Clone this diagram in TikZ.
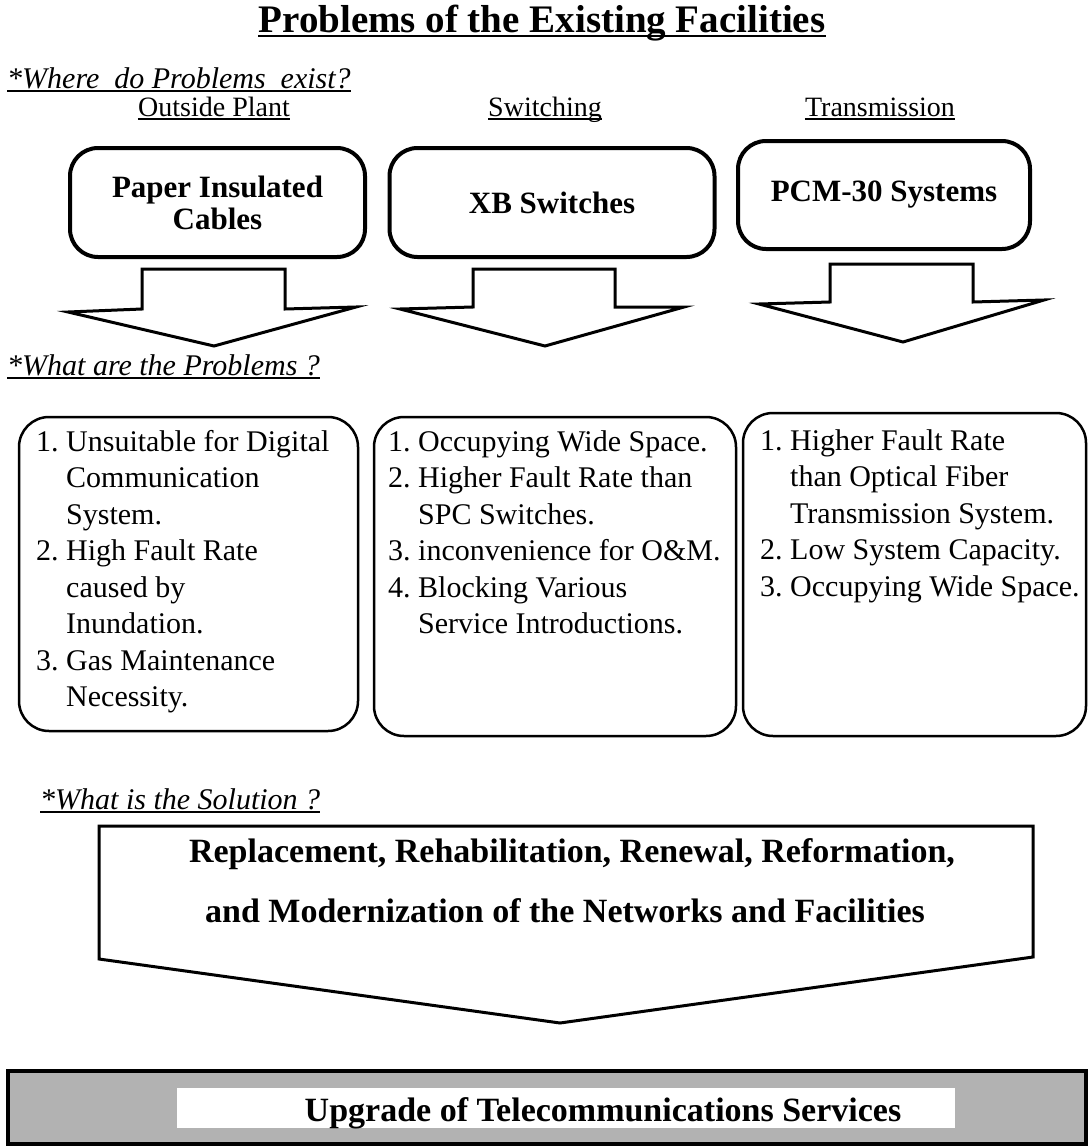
\documentclass[tikz,border=0pt]{standalone}
\usepackage{fontspec}
\setmainfont{Liberation Serif}
\newcommand\cont{\hspace*{1em}}
\frenchspacing
\begin{document}
\begin{tikzpicture}[x=1pt,y=-1pt,
  every node/.style={inner sep=0pt},
  ttl/.style={font=\fontsize{39}{45}\selectfont\bfseries, anchor=base},
  hdr/.style={font=\fontsize{30}{36}\selectfont\itshape, anchor=base west},
  cat/.style={font=\fontsize{28}{34}\selectfont, anchor=base},
  ul/.style={line width=1.6pt},
  topbox/.style={draw, line width=4pt, rounded corners=28pt,
    font=\fontsize{31}{32}\selectfont\bfseries, align=center},
  probbox/.style={draw, line width=2.5pt, rounded corners=30pt},
  plist/.style={font=\fontsize{30}{36.5}\selectfont, anchor=base west},
  blockarrow/.style={draw, line width=3pt, line join=miter},
  solbox/.style={draw, line width=3pt, line join=miter},
  soltext/.style={font=\fontsize{34}{40}\selectfont\bfseries, anchor=base},
  banner/.style={draw, line width=4pt, fill=black!30},
]
\useasboundingbox (0,0) rectangle (1090,1146);
\fill[white] (0,0) rectangle (1090,1146);

% title
\node[ttl] (title) at (542,32) {Problems of the Existing Facilities};
\draw[ul] ([yshift=-4pt]title.base west) -- ([yshift=-4pt]title.base east);

% where
\node[hdr] (where) at (7,88) {*Where\hspace{0.5em}do Problems\hspace{0.5em}exist?};
\draw[ul] ([yshift=-3pt]where.base west) -- ([yshift=-3pt]where.base east);

\node[cat] (op) at (214,116) {Outside Plant};
\node[cat] (sw) at (545,116) {Switching};
\node[cat] (tr) at (880,116) {Transmission};
\foreach \n in {op,sw,tr}
  \draw[line width=1.2pt] ([yshift=-3pt]\n.base west) -- ([yshift=-3pt]\n.base east);

% facility boxes
\node[topbox, minimum width=295pt, minimum height=109pt] (b1) at (217.5,202.5)
  {Paper Insulated\\Cables};
\node[topbox, minimum width=325pt, minimum height=109pt] (b2) at (552,202.5)
  {XB Switches};
\node[topbox, minimum width=292pt, minimum height=108pt] (b3) at (884,195)
  {PCM-30 Systems};

% block arrows
\draw[blockarrow] (142,269) -- (285,269) -- (285,309) -- (356,307) -- (214,346)
  -- (68,312) -- (142,309) -- cycle;
\draw[blockarrow] (473,269) -- (615,269) -- (615,307) -- (684,307) -- (545,346)
  -- (400,309) -- (473,307) -- cycle;
\draw[blockarrow] (830,264) -- (973,264) -- (973,302) -- (1044,300) -- (903,342)
  -- (759,304) -- (830,302) -- cycle;

% what are the problems
\node[hdr] (what) at (7,375) {*What are the Problems ?};
\draw[ul] ([yshift=-3pt]what.base west) -- ([yshift=-3pt]what.base east);

\node[probbox, minimum width=339pt, minimum height=314pt] (p1) at (188.5,574) {};
\node[probbox, minimum width=362pt, minimum height=319pt] (p2) at (555,576.5) {};
\node[probbox, minimum width=343pt, minimum height=323pt] (p3) at (914.5,574.5) {};

\node[plist] (t1) at (36,451) {\parbox[t]{320pt}{\raggedright
1. Unsuitable for Digital\\
\cont Communication\\
\cont System.\\
2. High Fault Rate\\
\cont caused by\\
\cont Inundation.\\
3. Gas Maintenance\\
\cont Necessity.}};
\node[plist] (t2) at (388,451) {\parbox[t]{340pt}{\raggedright
1. Occupying Wide Space.\\
2. Higher Fault Rate than\\
\cont SPC Switches.\\
3. inconvenience for O\&M.\\
4. Blocking Various\\
\cont Service Introductions.}};
\node[plist] (t3) at (760,450) {\parbox[t]{330pt}{\raggedright
1. Higher Fault Rate\\
\cont than Optical Fiber\\
\cont Transmission System.\\
2. Low System Capacity.\\
3. Occupying Wide Space.}};

% solution
\node[hdr] (sol) at (40,809) {*What is the Solution ?};
\draw[ul] ([yshift=-3pt]sol.base west) -- ([yshift=-3pt]sol.base east);

\draw[solbox] (99,826) -- (1033,826) -- (1033,957) -- (560,1023) -- (99,959) -- cycle;
\node[soltext] (s1) at (572,862) {Replacement, Rehabilitation, Renewal, Reformation,};
\node[soltext] (s2) at (565,922) {and Modernization of the Networks and Facilities};

% result banner
\draw[banner] (8,1071) rectangle (1086,1144);
\fill[white] (177,1088) rectangle (955,1128);
\node[soltext] (up) at (603,1121) {Upgrade of Telecommunications Services};
\end{tikzpicture}
\end{document}
